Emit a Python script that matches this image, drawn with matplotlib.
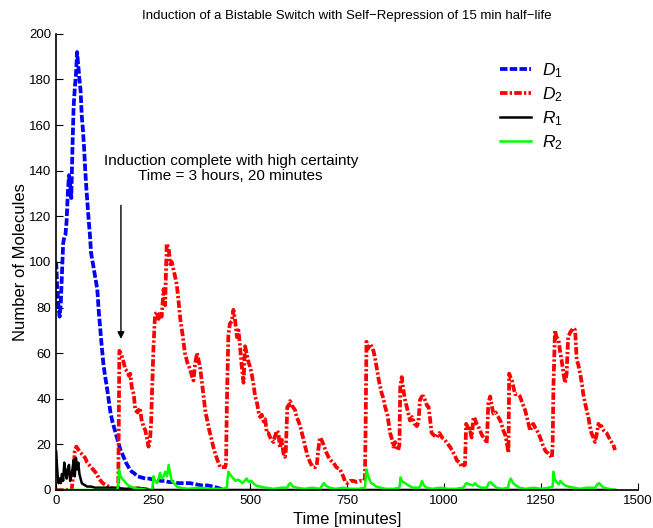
import numpy as np
import matplotlib
matplotlib.use('Agg')
import matplotlib.pyplot as plt

plt.rcParams['font.family'] = ['Liberation Sans', 'DejaVu Sans']
plt.rcParams['mathtext.fontset'] = 'custom'
plt.rcParams['mathtext.it'] = 'Liberation Sans:italic'
plt.rcParams['mathtext.rm'] = 'Liberation Sans'

# D1 (blue)
d1_t = [0, 3, 6, 9, 12, 15, 18, 21, 24, 27,
        30, 33, 36, 39, 42, 45, 48, 51, 54, 57,
        60, 63, 66, 69, 72, 75, 78, 81, 84, 87,
        90, 94, 98, 102, 106, 110, 114, 118, 122, 126,
        130, 135, 140, 145, 150, 155, 160, 165, 170, 175,
        180, 185, 190, 195, 200, 210, 220, 230, 240, 250,
        260, 270, 280, 290, 300, 315, 330, 345, 360, 375,
        390, 405, 415, 425, 432]
d1_v = [100, 88, 80, 76, 82, 95, 108, 111, 112, 118,
        130, 138, 134, 128, 150, 168, 176, 182, 192, 186,
        180, 175, 164, 158, 150, 140, 132, 125, 118, 112,
        104, 100, 96, 92, 88, 78, 70, 62, 55, 50,
        46, 40, 34, 30, 27, 24, 21, 18, 16, 14,
        12, 10.5, 9, 8, 7.5, 6, 5.5, 5, 5, 4.5,
        4.5, 4, 4, 3.5, 3.5, 3, 3, 3, 2.5, 2,
        2, 1.5, 1, 0.5, 0]

# D2 (red)
d2_t = [0, 40, 45, 48, 52, 56, 60, 65, 70, 75,
        80, 85, 90, 95, 100, 105, 110, 115, 120, 125,
        130, 140, 150, 158, 160, 163, 169, 174, 178, 183,
        188, 191, 195, 200, 204, 210, 216, 220, 225, 230,
        235, 238, 242, 245, 247, 251, 255, 260, 264, 268,
        272, 277, 281, 285, 290, 294, 298, 302, 306, 311,
        316, 320, 326, 332, 338, 345, 350, 354, 358, 363,
        367, 371, 376, 380, 385, 389, 395, 401, 405, 410,
        416, 423, 430, 436, 438, 440, 444, 448, 453, 457,
        461, 466, 470, 474, 478, 483, 487, 491, 496, 500,
        504, 509, 513, 518, 522, 526, 530, 535, 539, 543,
        547, 552, 556, 560, 565, 569, 573, 577, 582, 586,
        590, 592, 596, 600, 603, 608, 612, 616, 620, 625,
        629, 635, 642, 648, 655, 662, 668, 672, 676, 680,
        684, 689, 695, 702, 708, 715, 722, 732, 740, 745,
        750, 758, 766, 775, 784, 792, 796, 798, 800, 804,
        809, 813, 818, 822, 826, 832, 839, 844, 848, 854,
        861, 866, 869, 874, 878, 882, 885, 887, 891, 895,
        900, 906, 912, 918, 924, 930, 934, 938, 943, 947,
        952, 956, 960, 964, 968, 974, 981, 988, 995, 1002,
        1008, 1015, 1022, 1028, 1033, 1040, 1046, 1050, 1054, 1057,
        1060, 1062, 1066, 1071, 1074, 1076, 1080, 1084, 1088, 1093,
        1098, 1102, 1106, 1110, 1112, 1114, 1119, 1123, 1127, 1133,
        1140, 1146, 1153, 1158, 1162, 1166, 1168, 1172, 1175, 1179,
        1183, 1190, 1196, 1202, 1209, 1215, 1222, 1226, 1230, 1236,
        1243, 1250, 1256, 1262, 1269, 1274, 1278, 1280, 1282, 1286,
        1290, 1295, 1299, 1303, 1308, 1312, 1314, 1316, 1320, 1325,
        1329, 1334, 1338, 1342, 1346, 1351, 1355, 1359, 1365, 1372,
        1376, 1380, 1385, 1389, 1393, 1398, 1402, 1406, 1412, 1419,
        1425, 1432, 1436, 1441]
d2_v = [0, 0, 8, 17, 19, 18, 17, 16, 15, 14,
        12, 11, 10, 9, 8, 7, 5, 4, 3, 2.5,
        2, 1, 0.5, 0, 0, 61, 59, 56, 53, 52,
        50, 51, 45, 42, 35, 34, 36, 31, 28, 26,
        22, 19, 22, 30, 42, 63, 77, 78, 75, 78,
        76, 88, 81, 108, 106, 99, 100, 97, 94, 90,
        82, 75, 68, 60, 56, 53, 50, 48, 55, 60,
        57, 54, 47, 41, 34, 31, 26, 22, 19, 16,
        13, 10, 10, 10, 12, 37, 68, 73, 74, 79,
        75, 67, 70, 63, 55, 47, 63, 60, 56, 54,
        51, 46, 41, 38, 34, 32, 33, 30, 31, 25,
        25, 23, 22, 21, 24, 26, 25, 18.5, 22, 16,
        14.5, 17, 36.5, 37, 39, 37, 36, 35, 32, 30,
        28, 24, 19, 15, 12, 10, 10, 11, 18, 23,
        22, 20, 17, 14.5, 13, 12, 10, 9, 6, 3.7,
        3, 4, 4, 3.5, 4, 4, 5, 30, 65, 62,
        64, 63, 61, 58, 54, 48, 42.5, 40, 36.5, 33,
        25, 22, 19, 21, 18, 17.5, 20, 45, 49.5, 44,
        39, 35, 30.5, 32, 29, 28, 30, 39.5, 41, 41,
        39, 37, 36.5, 31, 25, 24, 23, 25, 23, 22,
        20.5, 19, 17, 15, 13, 12, 10, 11, 11, 29,
        28, 26, 27, 23, 28, 32, 31, 29, 28, 26,
        24, 23, 22, 20.5, 28, 38, 41, 37, 33.5, 34,
        32, 30, 26, 24, 20.5, 16.5, 51, 49, 48, 45,
        42, 42, 41, 38, 35, 31, 26, 28, 29, 27,
        25, 22, 19, 17, 16, 15, 14, 20, 45, 70,
        67, 66, 61, 57, 51, 47, 49, 51, 67, 69,
        70, 71, 70, 57, 55, 51, 47, 42, 37, 32,
        28, 25, 23, 21, 24, 29, 28, 28, 26, 25,
        23, 21, 20, 17.5]

# R1 (black)
r1_t = [0, 2, 4, 6, 9, 12, 15, 18, 21, 24,
        27, 30, 33, 36, 39, 42, 45, 48, 51, 54,
        57, 60, 63, 66, 70, 75, 80, 90, 100, 120,
        150, 180, 210, 235, 240, 1441]
r1_v = [17, 11, 6, 3, 5, 3, 7, 4, 12, 8,
        5, 9, 11, 4, 6, 9, 13, 6, 14, 9,
        12, 7, 5, 3, 2.5, 2, 1.5, 1.5, 1, 1,
        1, 0.5, 1, 0.5, 0, 0]

# R2 (green)
r2_t = [0, 158, 160, 162, 166, 170, 175, 180, 186, 191,
        200, 210, 220, 235, 248, 251, 255, 260, 264, 268,
        272, 277, 281, 286, 290, 294, 298, 304, 311, 320,
        340, 370, 400, 430, 440, 442, 444, 448, 452, 457,
        462, 468, 474, 480, 486, 491, 497, 503, 508, 515,
        525, 540, 560, 580, 596, 600, 604, 610, 620, 640,
        660, 680, 686, 690, 695, 705, 720, 740, 760, 780,
        796, 798, 800, 803, 807, 812, 818, 825, 835, 850,
        870, 885, 888, 891, 895, 900, 908, 920, 935, 940,
        943, 948, 955, 970, 990, 1010, 1030, 1050, 1055, 1058,
        1065, 1075, 1080, 1085, 1095, 1110, 1115, 1120, 1125, 1135,
        1150, 1165, 1168, 1172, 1178, 1185, 1195, 1210, 1230, 1250,
        1270, 1280, 1282, 1285, 1290, 1296, 1300, 1305, 1312, 1320,
        1335, 1350, 1370, 1390, 1395, 1400, 1405, 1412, 1425, 1441]
r2_v = [0, 0, 3, 9, 6, 5, 4, 3, 2, 1.5,
        1, 0.5, 0.5, 0, 0.5, 6, 4, 3, 5, 7.5,
        5, 6, 8, 6, 11, 7, 4, 3, 1.5, 1,
        0.5, 1, 0.5, 0.5, 1, 5, 8, 7, 6, 5,
        4, 4.5, 4, 3, 4, 5, 3.5, 4, 3, 2,
        1.5, 1, 0.5, 1, 1, 2.5, 3, 1.5, 1, 0.5,
        1, 0.5, 2, 3, 2, 1, 0.5, 1, 0.5, 0.5,
        1, 5, 9, 7, 5, 3, 2.5, 1.5, 1, 0.5,
        0.5, 1, 5.5, 4, 3.5, 3, 2, 1, 1, 2,
        4, 2, 1, 0.5, 1, 0.5, 0.5, 1, 2.5, 3,
        2.5, 2, 3, 2, 1, 1, 3, 3.5, 2.5, 1,
        0.5, 1, 3.5, 5, 3, 2, 1, 0.5, 1, 0.5,
        1, 1.5, 8, 5, 3.5, 2.5, 4, 3, 2, 1.5,
        1, 0.5, 1, 1, 2.5, 3, 2, 1, 0.5, 0]

fig = plt.figure(figsize=(6.53, 5.28), dpi=100)
ax = fig.add_subplot(111)
fig.subplots_adjust(left=0.086, right=0.977, bottom=0.072, top=0.936)

ax.plot(d1_t, d1_v, color='#0000ff', lw=2.7, linestyle=(0, (2.0, 0.6)), label='$D_1$')
ax.plot(d2_t, d2_v, color='#ff0000', lw=2.7, linestyle=(0, (2.0, 0.6, 0.6, 0.6)), label='$D_2$')
ax.plot(r1_t, r1_v, color='black', lw=1.8, label='$R_1$')
ax.plot(r2_t, r2_v, color='#00ff00', lw=1.8, label='$R_2$')

ax.set_xlim(0, 1500)
ax.set_ylim(0, 200)
ax.set_xticks(np.arange(0, 1501, 250))
ax.set_yticks(np.arange(0, 201, 20))
ax.spines['top'].set_visible(False)
ax.spines['right'].set_visible(False)
ax.spines['left'].set_linewidth(1.2)
ax.spines['bottom'].set_linewidth(1.2)
ax.tick_params(direction='in', length=5, labelsize=9.5)
ax.set_xlabel('Time [minutes]', fontsize=12, labelpad=4)
ax.set_ylabel('Number of Molecules', fontsize=12, labelpad=1)
ax.set_title('Induction of a Bistable Switch with Self\u2212Repression of 15 min half\u2212life',
             fontsize=9.5, pad=11)

ax.annotate('', xy=(167, 65), xytext=(167, 126),
            arrowprops=dict(arrowstyle='-|>', color='black', lw=1, mutation_scale=10))
ax.text(450, 141, 'Induction complete with high certainty\nTime = 3 hours, 20 minutes',
        ha='center', va='center', fontsize=11, linespacing=1.05)

ax.legend(loc='upper left', bbox_to_anchor=(0.763, 0.94), frameon=False, fontsize=12.5,
          handlelength=1.8, handletextpad=0.6, labelspacing=0.3, borderpad=0, borderaxespad=0)

plt.savefig('out.png', dpi=100)
